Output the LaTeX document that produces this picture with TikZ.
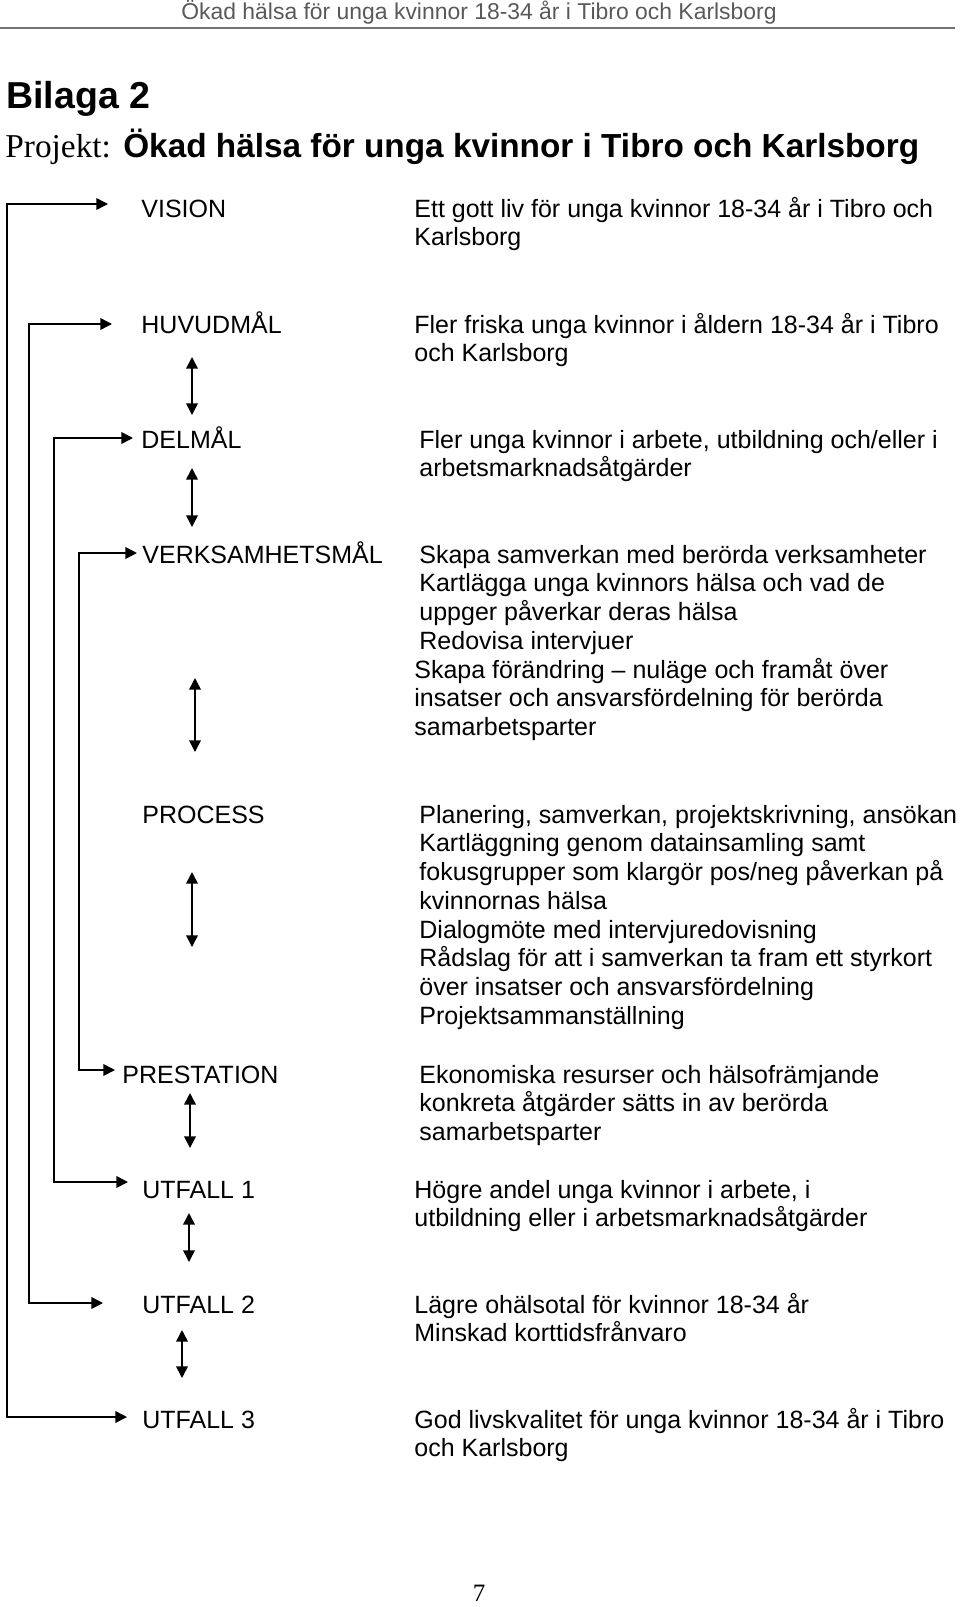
\documentclass[tikz,border=0pt]{standalone}
\usepackage{fontspec}
\setmainfont{Liberation Sans}
\newfontfamily\timesfont{Liberation Serif}
\usetikzlibrary{arrows.meta}
\begin{document}
\begin{tikzpicture}
[x=0.48pt,y=-0.48pt,%
  levelText/.style={anchor=base west,inner sep=0pt,font=\fontsize{12}{13.8}\selectfont},%
  descText/.style={anchor=base west,inner sep=0pt,align=left,font=\fontsize{12}{13.8}\selectfont},%
  busLine/.style={{Triangle[length=5.6pt,width=5.6pt]}-{Triangle[length=5.6pt,width=5.6pt]},line width=0.75pt},%
  stepLine/.style={busLine}]
\useasboundingbox (0,0) rectangle (960,1607);
%% page head and titles
\node (head) at (479,20) [anchor=base,inner sep=0pt,text=black!65,font=\fontsize{11}{13}\selectfont] {Ökad hälsa för unga kvinnor 18-34 år i Tibro och Karlsborg};
\coordinate (ruleL) at (0,28);
\coordinate (ruleR) at (955,28);
\draw[black!55,line width=1pt] (ruleL) -- (ruleR);
\node (bilaga) at (6,108) [anchor=base west,inner sep=0pt,font=\fontsize{18}{21}\selectfont\bfseries] {Bilaga 2};
\node (projekt) at (5,157) [anchor=base west,inner sep=0pt,font=\fontsize{16}{19}\selectfont] {{\timesfont Projekt:} \textbf{Ökad hälsa för unga kvinnor i Tibro och Karlsborg}};
%% level names
\foreach \nodename/\x/\y/\levelname in {vis/141/217/VISION, huv/141/333/HUVUDMÅL, del/141/448/DELMÅL, ver/142/563/VERKSAMHETSMÅL, pro/142/823/PROCESS, pre/122/1083/PRESTATION, ut1/142/1198/UTFALL 1, ut2/142/1313/UTFALL 2, ut3/142/1428/UTFALL 3}
{
  \node (\nodename) at (\x,\y) [levelText] {\levelname};
}
%% descriptions (placed at the baseline of their last line)
\node (vis-txt) at (414,245.75) [descText] {Ett gott liv för unga kvinnor 18-34 år i Tibro och\\Karlsborg};
\node (huv-txt) at (414,361.75) [descText] {Fler friska unga kvinnor i åldern 18-34 år i Tibro\\och Karlsborg};
\node (del-txt) at (419,476.75) [descText] {Fler unga kvinnor i arbete, utbildning och/eller i\\arbetsmarknadsåtgärder};
\node (ver-txt) at (419,649.25) [descText] {Skapa samverkan med berörda verksamheter\\Kartlägga unga kvinnors hälsa och vad de\\uppger påverkar deras hälsa\\Redovisa intervjuer};
\node (ver-txt2) at (414,735.5) [descText] {Skapa förändring – nuläge och framåt över\\insatser och ansvarsfördelning för berörda\\samarbetsparter};
\node (pro-txt) at (419,1024.25) [descText] {Planering, samverkan, projektskrivning, ansökan\\Kartläggning genom datainsamling samt\\fokusgrupper som klargör pos/neg påverkan på\\kvinnornas hälsa\\Dialogmöte med intervjuredovisning\\Rådslag för att i samverkan ta fram ett styrkort\\över insatser och ansvarsfördelning\\Projektsammanställning};
\node (pre-txt) at (419,1140.5) [descText] {Ekonomiska resurser och hälsofrämjande\\konkreta åtgärder sätts in av berörda\\samarbetsparter};
\node (ut1-txt) at (414,1226.75) [descText] {Högre andel unga kvinnor i arbete, i\\utbildning eller i arbetsmarknadsåtgärder};
\node (ut2-txt) at (414,1341.75) [descText] {Lägre ohälsotal för kvinnor 18-34 år\\Minskad korttidsfrånvaro};
\node (ut3-txt) at (414,1456.75) [descText] {God livskvalitet för unga kvinnor 18-34 år i Tibro\\och Karlsborg};
%% tips of the feed arrows
\foreach \tipname/\x/\y in {vis/108/204, huv/112/324, del/133/438, ver/137/553, pre/115/1070, ut1/128/1182, ut2/103/1303, ut3/127/1417}
{
  \coordinate (\tipname-tip) at (\x,\y);
}
\foreach \busname/\x in {bus1/7, bus2/29, bus3/54, bus4/79}
{
  \coordinate (\busname) at (\x,0);
}
%% feed lines
\foreach \startnode/\endnode/\busname in {vis/ut3/bus1, huv/ut2/bus2, del/ut1/bus3, ver/pre/bus4}
{
  \draw[busLine] (\startnode-tip) -- (\startnode-tip -| \busname) -- (\endnode-tip -| \busname) -- (\endnode-tip);
}
%% double arrows between levels
\foreach \linkname/\x/\ya/\yb in {hd/192/357/415, dv/192/468/527, vp/195/678/752, pp/192/872/947, pu/190/1093/1148, uu/189/1213/1262, uw/182/1330/1378}
{
  \coordinate (\linkname-a) at (\x,\ya);
  \coordinate (\linkname-b) at (\x,\yb);
  \draw[stepLine] (\linkname-a) -- (\linkname-b);
}
%% page number
\node (pagenum) at (479,1601) [anchor=base,inner sep=0pt,font={\timesfont\fontsize{12}{14}\selectfont}] {7};
\end{tikzpicture}
\end{document}
